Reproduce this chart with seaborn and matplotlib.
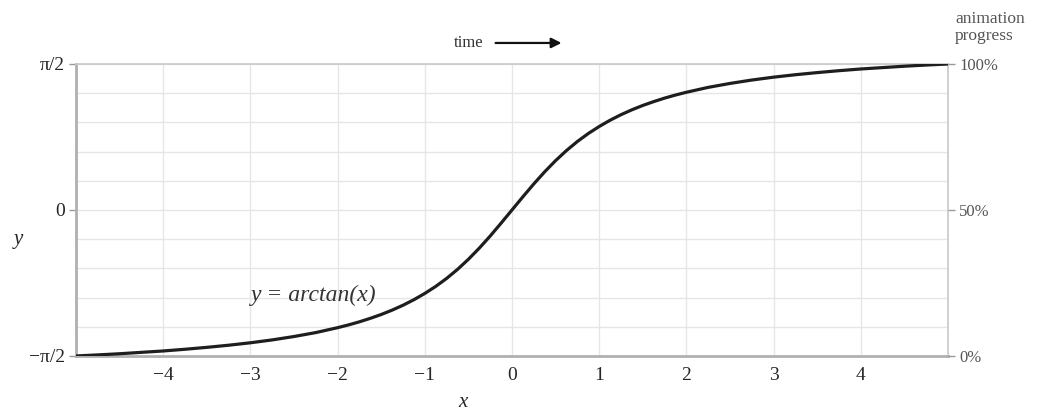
import numpy as np
import pandas as pd
import matplotlib
matplotlib.use("Agg")
import matplotlib.pyplot as plt
import seaborn as sns

# curve points (y = arctan(x))
x_vals = [-5.0, -4.75, -4.5, -4.25, -4.0, -3.75, -3.5, -3.25, -3.0, -2.75, -2.5, -2.25,
          -2.0, -1.875, -1.75, -1.625, -1.5, -1.375, -1.25, -1.125, -1.0, -0.875, -0.75,
          -0.625, -0.5, -0.375, -0.25, -0.125, 0.0,
          0.125, 0.25, 0.375, 0.5, 0.625, 0.75, 0.875, 1.0, 1.125, 1.25, 1.375, 1.5,
          1.625, 1.75, 1.875, 2.0, 2.25, 2.5, 2.75,
          3.0, 3.25, 3.5, 3.75, 4.0, 4.25, 4.5, 4.75, 5.0]
y_vals = [-1.373, -1.363, -1.352, -1.339, -1.326, -1.310, -1.292, -1.272, -1.249, -1.222, -1.190, -1.153,
          -1.107, -1.081, -1.052, -1.019, -0.983, -0.942, -0.896, -0.844, -0.785, -0.719, -0.644,
          -0.559, -0.464, -0.359, -0.245, -0.124, 0.0,
          0.124, 0.245, 0.359, 0.464, 0.559, 0.644, 0.719, 0.785, 0.844, 0.896, 0.942, 0.983,
          1.019, 1.052, 1.081, 1.107, 1.153, 1.190, 1.222,
          1.249, 1.272, 1.292, 1.310, 1.326, 1.339, 1.352, 1.363, 1.373]
x_ticks = [-4, -3, -2, -1, 0, 1, 2, 3, 4]
x_ticklabels = ["\u22124", "\u22123", "\u22122", "\u22121", "0", "1", "2", "3", "4"]
y_ticklabels = ["\u2212\u03c0/2", "0", "\u03c0/2"]
progress_labels = ["0%", "50%", "100%"]

df = pd.DataFrame({"x": x_vals, "y": y_vals})

sns.set_style("white")
plt.rcParams["font.family"] = ["Liberation Serif", "DejaVu Serif"]

fig = plt.figure(figsize=(10.47, 4.12), dpi=100)
ax = fig.add_axes([0.0726, 0.136, 0.8328, 0.7087])

ymax = y_vals[-1]
ax.set_xlim(x_vals[0], x_vals[-1])
ax.set_ylim(-ymax, ymax)

# grid
for gx in x_ticks:
    ax.axvline(gx, color="#e6e6e6", lw=1, zorder=0)
for gy in np.linspace(-ymax, ymax, 11):
    ax.axhline(gy, color="#e6e6e6", lw=1, zorder=0)

sns.lineplot(data=df, x="x", y="y", ax=ax, color="#1e1e1e", lw=2.3, zorder=3)

ax.set_xticks(x_ticks)
ax.set_xticklabels(x_ticklabels, fontsize=14)
ax.set_yticks([-ymax, 0, ymax])
ax.set_yticklabels(y_ticklabels, fontsize=14)
ax.tick_params(axis="x", length=0, pad=8)
ax.tick_params(axis="y", length=5, width=1, color="#999999", pad=3)
ax.set_xlabel("")
ax.set_ylabel("")

for side in ["left", "bottom"]:
    ax.spines[side].set_color("#b0b0b0")
    ax.spines[side].set_linewidth(2)
for side in ["top", "right"]:
    ax.spines[side].set_color("#c8c8c8")
    ax.spines[side].set_linewidth(1.2)

ax2 = ax.twinx()
ax2.set_ylim(-ymax, ymax)
ax2.set_yticks([-ymax, 0, ymax])
ax2.set_yticklabels(progress_labels, fontsize=12, color="#555555")
ax2.tick_params(axis="y", length=5, width=1, color="#999999", pad=3)
for side in ["left", "right", "top", "bottom"]:
    ax2.spines[side].set_visible(False)

ax.text(-0.0665, 0.40, "y", transform=ax.transAxes, fontsize=15, style="italic",
        ha="center", va="center")
ax.text(0.444, -0.16, "x", transform=ax.transAxes, fontsize=15, style="italic",
        ha="center", va="center")
ax.text(-2.27, -0.80, "y = arctan(x)", fontsize=17, style="italic", ha="center",
        va="center", color="#333333")

ax.text(0.467, 1.072, "time", transform=ax.transAxes, fontsize=12, ha="right",
        va="center", color="#333333")
ax.annotate("", xy=(0.56, 1.072), xytext=(0.478, 1.072), xycoords="axes fraction",
            arrowprops=dict(arrowstyle="-|>", color="#111111", lw=1.6,
                            mutation_scale=15), annotation_clip=False)
ax.text(1.008, 1.18, "animation\nprogress", transform=ax.transAxes, fontsize=12.5,
        ha="left", va="top", color="#555555", linespacing=1.05)

fig.savefig("out.png", dpi=100)
